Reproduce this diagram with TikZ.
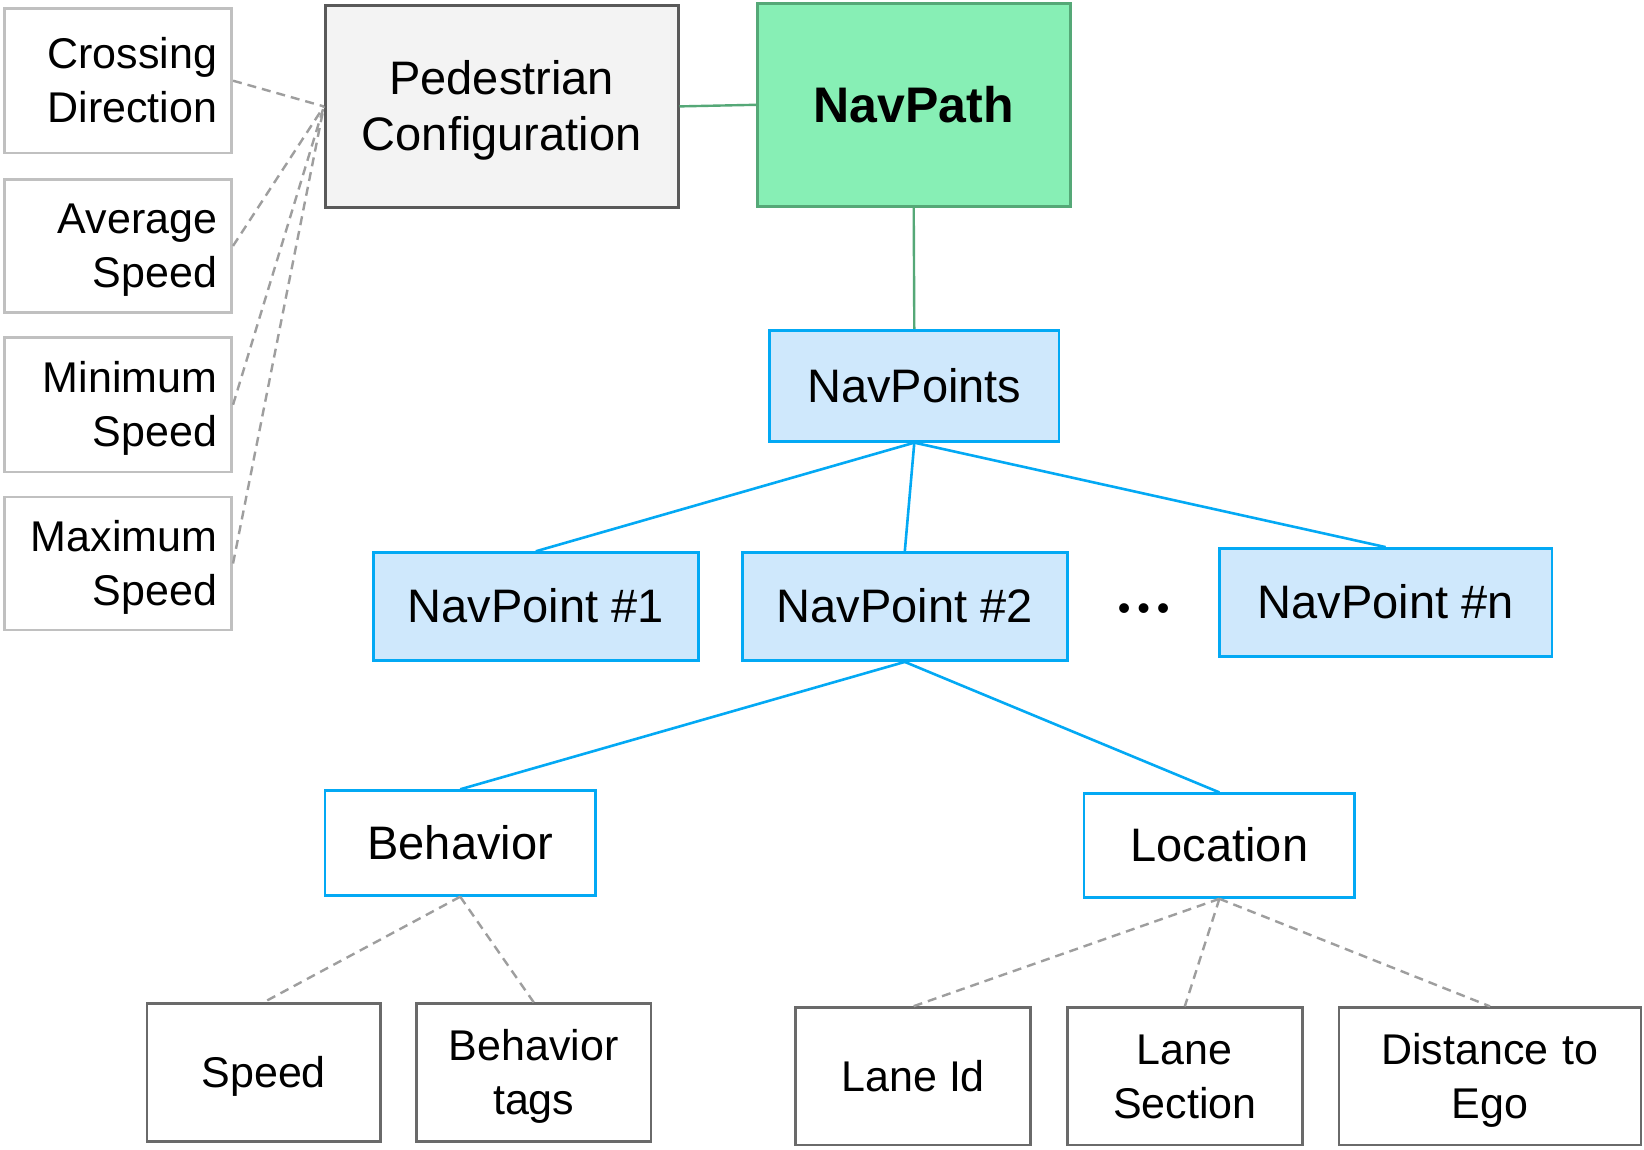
\documentclass[tikz,border=0pt]{standalone}
\usepackage{fontspec}
\setmainfont{Liberation Sans}
\definecolor{bluebrd}{HTML}{03A9F4}
\definecolor{bluefill}{HTML}{CFE8FC}
\definecolor{greenfill}{HTML}{87EFB5}
\definecolor{greenbrd}{HTML}{55A877}
\definecolor{pedfill}{HTML}{F3F3F3}
\definecolor{darkbrd}{HTML}{595959}
\definecolor{lightbrd}{HTML}{C0C0C0}
\definecolor{dashgray}{HTML}{9E9E9E}
% line-box strut: ascent 0.905em, descent 0.212em
\newcommand{\linestrut}{\rule[-0.212em]{0pt}{1.117em}}
\tikzset{
  big/.style={font=\fontsize{47}{56}\selectfont},
  small/.style={font=\fontsize{43}{54}\selectfont},
  box/.style={rectangle, draw, line width=2.6pt, inner sep=0pt, align=center,
    execute at begin node=\linestrut, execute at end node=\linestrut},
  bluebox/.style={box, draw=bluebrd, fill=bluefill, big},
  whitebluebox/.style={box, draw=bluebrd, fill=white, big},
  leafbox/.style={box, draw=darkbrd!90, fill=white, small, minimum width=234, minimum height=138},
  sidebox/.style={box, draw=lightbrd, fill=white, small, minimum width=227.5, text width=198.5, align=right},
  bluelink/.style={draw=bluebrd, line width=2.6pt},
  greenlink/.style={draw=greenbrd, line width=2.4pt},
  dashlink/.style={draw=dashgray, line width=2.4pt, dash pattern=on 9pt off 6pt},
}
\begin{document}
\begin{tikzpicture}[x=1pt, y=-1pt]
\useasboundingbox (0,0) rectangle (1644,1149);
\fill[white] (0,0) rectangle (1644,1149);

% top level
\node[box, draw=darkbrd, fill=pedfill, big, minimum width=353, minimum height=202, text width=330] (ped) at (501.7,106.4) {Pedestrian\\Configuration};
\node[box, draw=greenbrd, fill=greenfill, font=\fontsize{50}{58}\selectfont\bfseries, minimum width=313, minimum height=203] (navpath) at (913.7,104.8) {NavPath};

% side attributes
\node[sidebox, minimum height=144.7] (cross) at (118,80.7) {Crossing\\Direction};
\node[sidebox, minimum height=133.2] (avg) at (118,245.9) {Average\\Speed};
\node[sidebox, minimum height=134.2] (min) at (118,404.7) {Minimum\\Speed};
\node[sidebox, minimum height=133.1] (max) at (118,563.5) {Maximum\\Speed};

% navigation points
\node[bluebox, minimum width=289.4, minimum height=111.1] (pts) at (914.3,385.8) {NavPoints};
\node[bluebox, minimum width=325, minimum height=108] (np1) at (535.8,606.6) {NavPoint \#1};
\node[bluebox, minimum width=325, minimum height=108] (np2) at (904.8,606.6) {NavPoint \#2};
\node[bluebox, minimum width=332.4, minimum height=108] (npn) at (1385.6,602.4) {NavPoint \#n};
\node[font=\fontsize{36}{36}\selectfont, inner sep=0pt] (dots) at (1143.7,612.5) {•\hspace{6.9pt}•\hspace{6.9pt}•};

% navpoint details
\node[whitebluebox, minimum width=270.5, minimum height=104.8] (beh) at (460.2,843) {Behavior};
\node[whitebluebox, minimum width=270.6, minimum height=103.8] (loc) at (1219.4,845.6) {Location};

% leaf attributes
\node[leafbox, minimum width=233.8] (speed) at (263.7,1072.6) {Speed};
\node[leafbox, minimum width=234.8, text width=215] (tags) at (533.7,1072.6) {Behavior\\tags};
\node[leafbox, minimum width=234.9, minimum height=137.3] (lane) at (913.2,1076.3) {Lane Id};
\node[leafbox, minimum width=234.8, minimum height=137.3, text width=215] (sec) at (1184.8,1076.3) {Lane\\Section};
\node[leafbox, minimum width=301.9, minimum height=137.3, text width=280] (dist) at (1490,1076.3) {Distance to\\Ego};

% connectors
\draw[greenlink] (ped.east) -- (navpath.west);
\draw[greenlink] (navpath.south) -- (pts.north);
\draw[bluelink] (pts.south) -- (np1.north);
\draw[bluelink] (pts.south) -- (np2.north);
\draw[bluelink] (pts.south) -- (npn.north);
\draw[bluelink] (np2.south) -- (beh.north);
\draw[bluelink] (np2.south) -- (loc.north);

\draw[dashlink] (cross.east) -- (ped.west);
\draw[dashlink] (avg.east) -- (ped.west);
\draw[dashlink] (min.east) -- (ped.west);
\draw[dashlink] (max.east) -- (ped.west);

\draw[dashlink] (beh.south) -- (speed.north);
\draw[dashlink] (beh.south) -- (tags.north);
\draw[dashlink] (loc.south) -- (lane.north);
\draw[dashlink] (loc.south) -- (sec.north);
\draw[dashlink] (loc.south) -- (dist.north);
\end{tikzpicture}
\end{document}
